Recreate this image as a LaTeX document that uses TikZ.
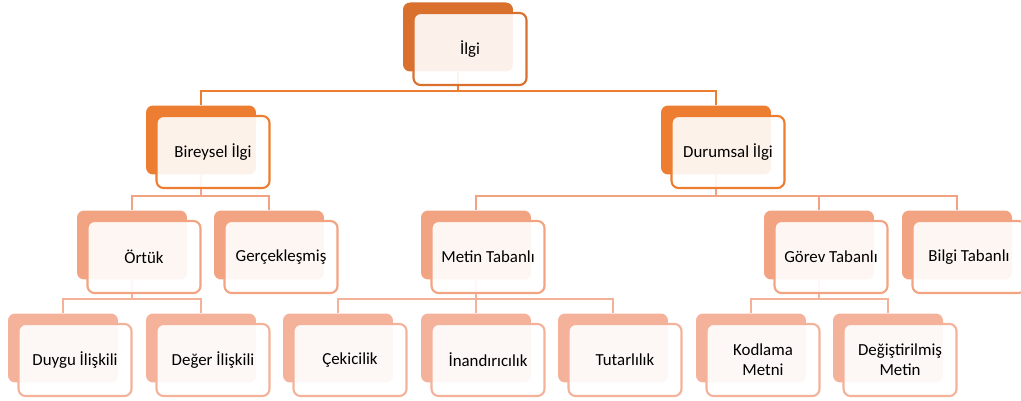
\documentclass[tikz,border=0pt]{standalone}
\usepackage{fontspec}
\setmainfont{Carlito}
\usepackage{xcolor}
\usepackage{tikz}
\usetikzlibrary{positioning, backgrounds, calc}

\definecolor{lvA}{HTML}{D9702E}
\definecolor{lvB}{HTML}{ED7D31}
\definecolor{lvC}{HTML}{F2A482}
\definecolor{lvD}{HTML}{F4B29B}

\begin{document}
\begin{tikzpicture}[
    x=0.02cm, y=-0.02cm,
    back/.style={rounded corners=4pt, inner sep=0pt, minimum width=2.2cm, minimum height=1.38cm},
    front/.style={draw, line width=1.2pt, rounded corners=4pt, fill=white, fill opacity=0.9,
                  text opacity=1, inner sep=1pt, minimum width=2.26cm, minimum height=1.44cm,
                  align=center, text=black, font=\fontsize{9.6}{11.5}\selectfont},
    conn/.style={line width=1.2pt,
                 to path={(\tikztostart) |- ([yshift=0.28cm]\tikztotarget) -| (\tikztotarget)}},
]
\useasboundingbox (0,0) rectangle (1021,401);

% --- Level 1 ---
\node[back, fill=lvA] (ilgiB) at (458,37) {};

% --- Level 2 ---
\node[back, fill=lvB] (bireyB) at (201,140) {};
\node[back, fill=lvB] (durumB) at (716,140) {};

% --- Level 3 ---
\node[back, fill=lvC] (ortukB)  at (132,245) {};
\node[back, fill=lvC] (gercekB) at (269,245) {};
\node[back, fill=lvC] (metinB)  at (476,245) {};
\node[back, fill=lvC] (gorevB)  at (819,245) {};
\node[back, fill=lvC] (bilgiB)  at (957,245) {};

% --- Level 4 ---
\node[back, fill=lvD] (duyguB)   at (63,348)  {};
\node[back, fill=lvD] (degerB)   at (201,348) {};
\node[back, fill=lvD] (cekiciB)  at (338,348) {};
\node[back, fill=lvD] (inandB)   at (476,348) {};
\node[back, fill=lvD] (tutarB)   at (613,348) {};
\node[back, fill=lvD] (kodlamaB) at (751,348) {};
\node[back, fill=lvD] (degisB)   at (888,348) {};

% --- Connectors ---
\begin{scope}[on background layer]
    \draw[conn, lvB] (ilgiB.south) to (bireyB.north);
    \draw[conn, lvB] (ilgiB.south) to (durumB.north);
    \draw[conn, lvC] (bireyB.south) to (ortukB.north);
    \draw[conn, lvC] (bireyB.south) to (gercekB.north);
    \draw[conn, lvC] (durumB.south) to (metinB.north);
    \draw[conn, lvC] (durumB.south) to (gorevB.north);
    \draw[conn, lvC] (durumB.south) to (bilgiB.north);
    \draw[conn, lvD] (ortukB.south) to (duyguB.north);
    \draw[conn, lvD] (ortukB.south) to (degerB.north);
    \draw[conn, lvD] (metinB.south) to (cekiciB.north);
    \draw[conn, lvD] (metinB.south) to (inandB.north);
    \draw[conn, lvD] (metinB.south) to (tutarB.north);
    \draw[conn, lvD] (gorevB.south) to (kodlamaB.north);
    \draw[conn, lvD] (gorevB.south) to (degisB.north);
\end{scope}

% --- Text boxes ---
\node[front, draw=lvA] (ilgi)    at ([shift={(12,12)}]ilgiB.center)    {İlgi};
\node[front, draw=lvB] (birey)   at ([shift={(12,12)}]bireyB.center)   {Bireysel İlgi};
\node[front, draw=lvB] (durum)   at ([shift={(12,12)}]durumB.center)   {Durumsal İlgi};
\node[front, draw=lvC] (ortuk)   at ([shift={(12,12)}]ortukB.center)   {Örtük};
\node[front, draw=lvC] (gercek)  at ([shift={(12,12)}]gercekB.center)  {Gerçekleşmiş};
\node[front, draw=lvC] (metin)   at ([shift={(12,12)}]metinB.center)   {Metin Tabanlı};
\node[front, draw=lvC] (gorev)   at ([shift={(12,12)}]gorevB.center)   {Görev Tabanlı};
\node[front, draw=lvC] (bilgi)   at ([shift={(12,12)}]bilgiB.center)   {Bilgi Tabanlı};
\node[front, draw=lvD] (duygu)   at ([shift={(12,12)}]duyguB.center)   {Duygu İlişkili};
\node[front, draw=lvD] (deger)   at ([shift={(12,12)}]degerB.center)   {Değer İlişkili};
\node[front, draw=lvD] (cekici)  at ([shift={(12,12)}]cekiciB.center)  {Çekicilik};
\node[front, draw=lvD] (inand)   at ([shift={(12,12)}]inandB.center)   {İnandırıcılık};
\node[front, draw=lvD] (tutar)   at ([shift={(12,12)}]tutarB.center)   {Tutarlılık};
\node[front, draw=lvD] (kodlama) at ([shift={(12,12)}]kodlamaB.center) {Kodlama\\Metni};
\node[front, draw=lvD] (degis)   at ([shift={(12,12)}]degisB.center)   {Değiştirilmiş\\Metin};

\end{tikzpicture}
\end{document}
